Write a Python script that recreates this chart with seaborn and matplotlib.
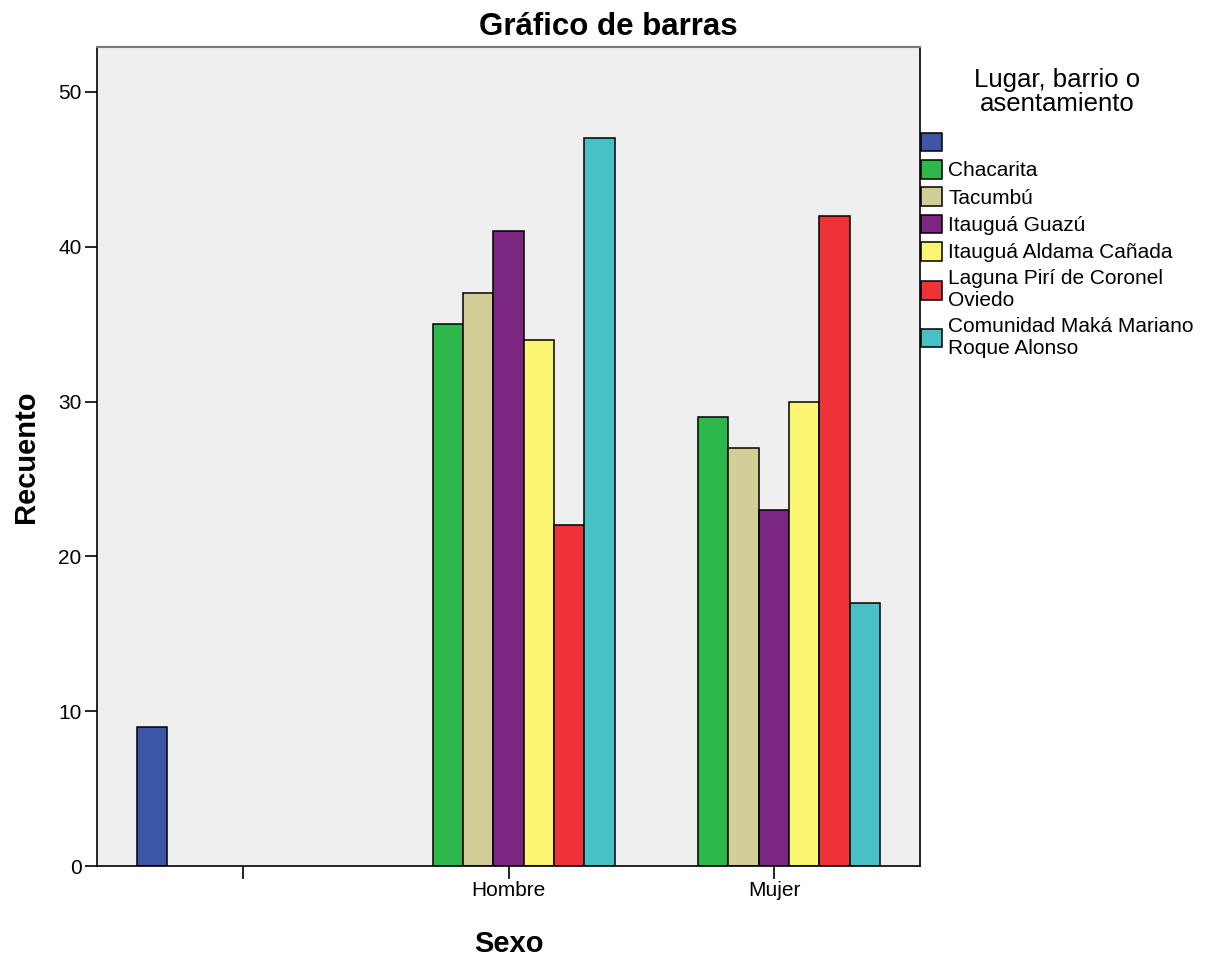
import pandas as pd
import matplotlib.pyplot as plt
import seaborn as sns
from matplotlib.patches import Patch

# Categories and counts
sexo_order = ["", "Hombre", "Mujer"]
lugares = ["", "Chacarita", "Tacumbú", "Itauguá Guazú", "Itauguá Aldama Cañada",
           "Laguna Pirí de Coronel Oviedo", "Comunidad Maká Mariano Roque Alonso"]
legend_labels = ["", "Chacarita", "Tacumbú", "Itauguá Guazú", "Itauguá Aldama Cañada",
                 "Laguna Pirí de Coronel\nOviedo", "Comunidad Maká Mariano\nRoque Alonso"]
counts_sin_dato = [9, 0, 0, 0, 0, 0, 0]
counts_hombre = [0, 35, 37, 41, 34, 22, 47]
counts_mujer = [0, 29, 27, 23, 30, 42, 17]
colors = ["#3D56A8", "#2DB84B", "#D3CE97", "#7B2680", "#FAF672", "#EE3237", "#48C1C6"]

rows = []
for sexo, counts in zip(sexo_order, [counts_sin_dato, counts_hombre, counts_mujer]):
    for lugar, n in zip(lugares, counts):
        if n > 0:
            rows.append({"sexo": sexo, "lugar": lugar, "recuento": n})
df = pd.DataFrame(rows)

sns.set_style("ticks")
plt.rcParams['font.family'] = ['Liberation Sans', 'DejaVu Sans']
plt.rcParams['text.color'] = 'black'
plt.rcParams['axes.labelcolor'] = 'black'

fig = plt.figure(figsize=(12.06, 9.58), dpi=100)
ax = fig.add_axes([97 / 1206, 1 - 866 / 958, 823 / 1206, 819 / 958])
ax.set_facecolor("#EFEFEF")

sns.barplot(data=df, x="sexo", y="recuento", hue="lugar", order=sexo_order,
            hue_order=lugares, palette=colors, saturation=1, width=0.8,
            edgecolor="black", linewidth=1.1, legend=False, ax=ax)

ax.set_xlim(-0.55, 2.55)
ax.set_ylim(0, 52.9)
ax.set_yticks([0, 10, 20, 30, 40, 50])
ax.tick_params(axis="both", direction="out", length=9, width=1.2, labelsize=15,
               colors="black", pad=2)

for side in ["left", "bottom", "right"]:
    ax.spines[side].set_color("black")
    ax.spines[side].set_linewidth(1.2)
ax.spines["top"].set_color("#777777")
ax.spines["top"].set_linewidth(1.5)

ax.set_xlabel("Sexo", fontsize=21, fontweight="bold")
ax.set_ylabel("Recuento", fontsize=21, fontweight="bold")
ax.xaxis.set_label_coords(0.5, -0.078)
ax.yaxis.set_label_coords(-0.069, 0.5)

fig.text(608 / 1206, 1 - 27 / 958, "Gráfico de barras", ha="center", va="center",
         fontsize=22.5, fontweight="bold")

handles = [Patch(facecolor=c, edgecolor="black", linewidth=1.1) for c in colors]
leg = fig.legend(handles, legend_labels, title="Lugar, barrio o\nasentamiento",
                 loc="upper left", bbox_to_anchor=(921 / 1206, 1 - 68 / 958),
                 frameon=False, fontsize=15, title_fontsize=18.5,
                 handlelength=1.0, handleheight=1.0, handletextpad=0.3,
                 labelspacing=0.33, borderpad=0, borderaxespad=0)
leg._legend_box.align = "center"
leg._legend_box.sep = 12
leg.get_title().set_multialignment("center")
leg.get_title().set_linespacing(1.0)
for t in leg.get_texts():
    t.set_linespacing(1.2)

fig.savefig("out.png", dpi=100)
